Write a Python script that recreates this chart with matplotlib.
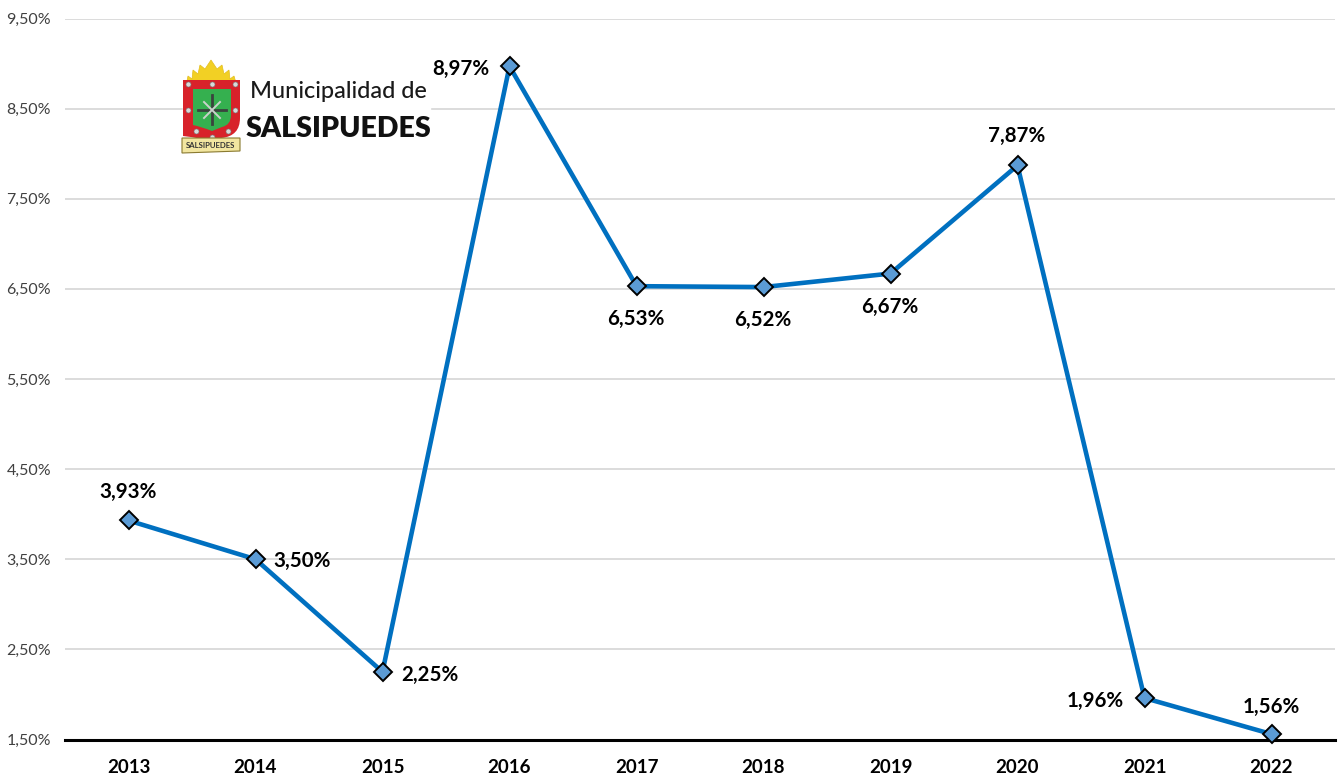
import matplotlib
matplotlib.use('Agg')
import matplotlib.pyplot as plt
from matplotlib.patches import Polygon, Rectangle, PathPatch
from matplotlib.path import Path
from matplotlib.transforms import offset_copy

years = ['2013', '2014', '2015', '2016', '2017', '2018', '2019', '2020', '2021', '2022']
values = [3.93, 3.50, 2.25, 8.97, 6.53, 6.52, 6.67, 7.87, 1.96, 1.56]
labels = ['3,93%', '3,50%', '2,25%', '8,97%', '6,53%', '6,52%', '6,67%', '7,87%', '1,96%', '1,56%']
# desplazamiento de cada etiqueta respecto del punto, en pixeles
label_dx = [0, 47, 47, -49, -1, -1, -1, -1, -49, 0]
label_dy = [29, -2, -3, -3, -33, -33, -33, 29, -3, 27]
y_ticks = [1.5, 2.5, 3.5, 4.5, 5.5, 6.5, 7.5, 8.5, 9.5]
y_tick_labels = ['1,50%', '2,50%', '3,50%', '4,50%', '5,50%', '6,50%', '7,50%', '8,50%', '9,50%']

plt.rcParams['font.family'] = ['Lato', 'DejaVu Sans']

W, H = 1341, 783
fig = plt.figure(figsize=(W / 100, H / 100), dpi=100, facecolor='white')
ax = fig.add_axes([65 / W, 1 - 739.5 / H, (1335 - 65) / W, (739.5 - 18.5) / H])

x = list(range(len(years)))
ax.plot(x, values, color='#0070C0', linewidth=3.3, marker='D', markersize=9,
        markerfacecolor='#5B9BD5', markeredgecolor='black', markeredgewidth=1.4,
        clip_on=False, zorder=5, solid_joinstyle='miter')

ax.set_xlim(-0.5, 9.5)
ax.set_ylim(1.5, 9.5)
ax.set_xticks(x)
ax.set_xticklabels(years, fontsize=13.5, fontweight='bold', color='black')
ax.set_yticks(y_ticks)
ax.set_yticklabels(y_tick_labels, fontsize=11.5, color='#404040')
ax.tick_params(axis='both', length=0)
ax.tick_params(axis='x', pad=14)
ax.tick_params(axis='y', pad=10)
ax.grid(axis='y', color='#D9D9D9', linewidth=1.3)
ax.set_axisbelow(True)
for s in ['top', 'left', 'right']:
    ax.spines[s].set_visible(False)
ax.spines['bottom'].set_linewidth(2.2)
ax.spines['bottom'].set_color('black')

for i in x:
    tr = offset_copy(ax.transData, fig=fig, x=label_dx[i], y=label_dy[i], units='dots')
    ax.text(i, values[i], labels[i], transform=tr, ha='center', va='center',
            fontsize=14.8, fontweight='bold', color='black', zorder=6)

# logo, en coordenadas de pixel
logo = fig.add_axes([0, 0, 1, 1], facecolor='none')
logo.set_xlim(0, W)
logo.set_ylim(H, 0)
logo.axis('off')

# la imagen del logo tapa la linea de 8,50%
logo.add_patch(Rectangle((183, 104), 247, 8, color='white', zorder=1))
rays = [(186, 86), (188, 76), (192, 79), (193, 70), (198, 74), (200, 65), (205, 69), (211, 60),
        (217, 69), (222, 65), (224, 74), (229, 70), (230, 79), (234, 76), (237, 86)]
logo.add_patch(Polygon(rays, closed=True, fc='#F2D024', ec='#E3BE1E', lw=0.5, zorder=2))


def shield(x0, x1, y0, y1, mid, fc, ec='none'):
    cx = (x0 + x1) / 2
    verts = [(x0, y0), (x1, y0), (x1, mid), (x1, y1 - 6), (cx + 10, y1 - 4), (cx, y1),
             (cx - 10, y1 - 4), (x0, y1 - 6), (x0, mid), (x0, y0)]
    codes = [Path.MOVETO, Path.LINETO, Path.LINETO, Path.CURVE3, Path.CURVE3, Path.LINETO,
             Path.CURVE3, Path.CURVE3, Path.LINETO, Path.CLOSEPOLY]
    return PathPatch(Path(verts, codes), fc=fc, ec=ec, lw=0.6, zorder=3)


logo.add_patch(shield(183, 240, 80, 142, 118, '#D8222A'))
logo.add_patch(shield(193, 231, 89, 131, 115, '#35B04F'))
logo.plot([212, 212], [95, 124], color='#3A443E', lw=2.0, zorder=4)
logo.plot([198, 226], [110, 110], color='#3A443E', lw=2.0, zorder=4)
logo.plot([204, 220], [102, 118], color='#C9D2CB', lw=1.4, zorder=4)
logo.plot([204, 220], [118, 102], color='#C9D2CB', lw=1.4, zorder=4)
logo.plot([188, 212, 235, 188, 235, 196, 228, 212],
          [84, 84, 84, 110, 110, 131, 131, 137],
          ls='none', marker='o', ms=3.6, mfc='#D9D9D9', mec='#7A7A7A', mew=0.4, zorder=4)
logo.add_patch(Polygon([(182, 138), (240, 138), (240, 151), (182, 153)], closed=True,
                       fc='#F2E6A0', ec='#8A7A30', lw=0.8, zorder=5))
logo.text(211, 146, 'SALSIPUEDES', fontsize=5.6, fontweight='bold', color='#333333',
          ha='center', va='center', zorder=6)
logo.text(250, 91, 'Municipalidad de', fontsize=16.9, fontweight='medium', color='#1A1A1A',
          ha='left', va='center', zorder=6)
logo.text(246, 129, 'SALSIPUEDES', fontsize=20.5, fontweight='heavy', color='#111111',
          ha='left', va='center', zorder=6)

fig.savefig('out.png', dpi=100)
